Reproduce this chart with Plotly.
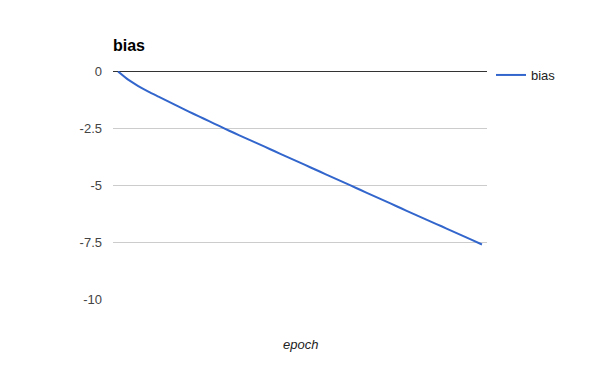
import plotly.graph_objects as go

epochs = list(range(37))
bias = [-0.02, -0.38, -0.66, -0.90, -1.12, -1.34, -1.56, -1.78, -1.99, -2.20,
        -2.41, -2.62, -2.82, -3.02, -3.22, -3.42, -3.62, -3.82, -4.02, -4.22,
        -4.42, -4.62, -4.82, -5.02, -5.22, -5.42, -5.62, -5.82, -6.02, -6.22,
        -6.42, -6.62, -6.81, -7.01, -7.21, -7.41, -7.61]
y_ticks = [0, -2.5, -5, -7.5, -10]
y_tick_text = ["0", "-2.5", "-5", "-7.5", "-10"]

FONT = "Arial, Liberation Sans, Arimo, sans-serif"

fig = go.Figure()
fig.add_trace(go.Scatter(x=epochs, y=bias, mode="lines", name="bias",
                         line=dict(color="#3366cc", width=2, shape="spline", smoothing=0.6)))

fig.update_layout(
    width=600, height=371,
    margin=dict(l=113, r=113, t=71, b=72),
    paper_bgcolor="white", plot_bgcolor="white",
    font=dict(family=FONT, size=13, color="#444444"),
    title=dict(text="<b>bias</b>", x=113/600, xref="container", xanchor="left",
               y=1-45/371, yref="container", yanchor="middle",
               font=dict(family=FONT, size=16, color="#000000")),
    showlegend=True,
    legend=dict(x=1.0 + 4/374, xref="paper", xanchor="left", y=1.0 + 11/228, yanchor="top",
                font=dict(family=FONT, size=13, color="#222222"),
                bgcolor="rgba(0,0,0,0)", itemwidth=30, tracegroupgap=0),
    xaxis=dict(range=[-0.5, 36.5], showgrid=False, zeroline=False,
               showticklabels=False, ticks="", showline=False, fixedrange=True),
    yaxis=dict(range=[-10, 0], tickvals=y_ticks, ticktext=y_tick_text,
               showgrid=True, gridcolor="#cccccc", gridwidth=1,
               zeroline=True, zerolinecolor="#333333", zerolinewidth=1,
               ticks="", ticklabelstandoff=10, showline=False,
               tickfont=dict(family=FONT, size=13, color="#444444")),
    annotations=[dict(text="<i>epoch</i>", x=0.5, xref="paper",
                      y=(299-344)/228, yref="paper", yanchor="middle",
                      xanchor="center", showarrow=False,
                      font=dict(family=FONT, size=13, color="#222222"))],
)

fig.write_html("out.html")
